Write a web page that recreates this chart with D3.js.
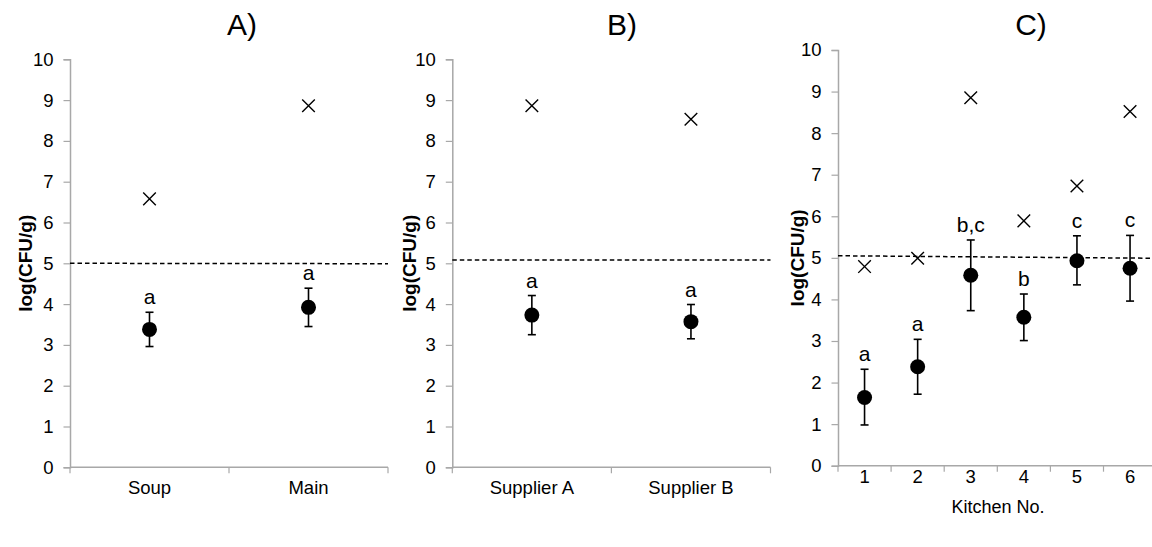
<!DOCTYPE html>
<html><head><meta charset="utf-8">
<script src="https://cdn.jsdelivr.net/npm/d3@7"></script>
<style>
body{margin:0;background:#fff;}
svg{display:block;font-family:"Liberation Sans",Arial,sans-serif;}
</style></head>
<body><svg id="c" width="1152" height="547"></svg>
<script>
// Panel A
const catsA = ["Soup","Main"];
const meanA = [3.38, 3.92];
const upA = [3.80, 4.39];
const lowA = [2.96, 3.45];
const maxA = [6.58, 8.86];
const letA = ["a","a"];
const limA = [5.00, 4.99];
// Panel B
const catsB = ["Supplier A","Supplier B"];
const meanB = [3.73, 3.57];
const upB = [4.21, 3.99];
const lowB = [3.25, 3.15];
const maxB = [8.86, 8.53];
const letB = ["a","a"];
const limB = [5.08, 5.08];
// Panel C
const catsC = ["1","2","3","4","5","6"];
const meanC = [1.64, 2.38, 4.58, 3.57, 4.93, 4.75];
const upC = [2.32, 3.04, 5.43, 4.13, 5.53, 5.54];
const lowC = [0.98, 1.72, 3.73, 3.01, 4.35, 3.96];
const maxC = [4.79, 4.99, 8.85, 5.89, 6.73, 8.52];
const letC = ["a","a","b,c","b","c","c"];
const limC = [5.05, 4.99];
const yTicks = [0,1,2,3,4,5,6,7,8,9,10];

const svg = d3.select("#c");
const axisColor = "#a8a8a8";
const FF = "Liberation Sans, Arial, sans-serif";

function panel(o){
  const g = svg.append("g");
  const x = d3.scaleBand().domain(o.cats).range([o.x0, o.x1]);
  const y = d3.scaleLinear().domain([0,10]).range([o.y1, o.y0]);
  // y axis
  const ya = g.append("g").attr("transform",`translate(${o.x0},0)`)
    .call(d3.axisLeft(y).tickValues(yTicks).tickSize(6.5).tickPadding(10));
  ya.select(".domain").attr("stroke",axisColor).attr("stroke-width",1.5);
  ya.selectAll(".tick line").attr("stroke",axisColor).attr("stroke-width",1.2);
  ya.selectAll("text").attr("font-size",18.5).attr("fill","#000").attr("font-family",FF);
  // x axis
  const xa = g.append("g").attr("transform",`translate(0,${o.y1})`)
    .call(d3.axisBottom(x).tickSize(0).tickPadding(o.xpad));
  xa.select(".domain").attr("stroke",axisColor).attr("stroke-width",1.5).attr("d",`M${o.x0},0H${o.x1}`);
  xa.selectAll("text").attr("font-size",18.5).attr("fill","#000").attr("font-family",FF);
  // boundary ticks
  const bounds = o.cats.map(c => x(c)).concat([o.x1]);
  g.selectAll(".bt").data(bounds).enter().append("line")
    .attr("x1",d=>d).attr("x2",d=>d).attr("y1",o.y1).attr("y2",o.y1+6)
    .attr("stroke",axisColor).attr("stroke-width",1.2);
  // threshold line
  g.append("line").attr("x1",o.x0).attr("x2",o.x1)
    .attr("y1",y(o.lim[0])).attr("y2",y(o.lim[1]))
    .attr("stroke","#000").attr("stroke-width",1.5).attr("stroke-dasharray","4.5,3");
  const cx = c => x(c) + x.bandwidth()/2;
  o.cats.forEach((c,i)=>{
    const X = cx(c);
    g.append("line").attr("x1",X).attr("x2",X).attr("y1",y(o.up[i])).attr("y2",y(o.low[i]))
      .attr("stroke","#000").attr("stroke-width",1.6);
    [o.up[i], o.low[i]].forEach(v=>{
      g.append("line").attr("x1",X-4).attr("x2",X+4).attr("y1",y(v)).attr("y2",y(v))
        .attr("stroke","#000").attr("stroke-width",1.6);
    });
    g.append("circle").attr("cx",X).attr("cy",y(o.mean[i])).attr("r",7.5).attr("fill","#000");
    const MY = y(o.max[i]), s = 6.3;
    g.append("path").attr("d",`M${X-s},${MY-s}L${X+s},${MY+s}M${X-s},${MY+s}L${X+s},${MY-s}`)
      .attr("stroke","#000").attr("stroke-width",1.4).attr("fill","none");
    g.append("text").attr("x",X).attr("y",y(o.up[i])-8).attr("text-anchor","middle")
      .attr("font-size",21).text(o.let[i]);
  });
  g.append("text").attr("x",o.tx).attr("y",35).attr("text-anchor","middle").attr("font-size",30).text(o.title);
  g.append("text").attr("transform",`translate(${o.lx},${(o.y0+o.y1)/2}) rotate(-90)`)
    .attr("text-anchor","middle").attr("dominant-baseline","central")
    .attr("font-size",19).attr("font-weight","bold").text("log(CFU/g)");
  if(o.xlabel){
    g.append("text").attr("x",o.xlx).attr("y",513).attr("text-anchor","middle")
      .attr("font-size",18).text(o.xlabel);
  }
}

panel({cats:catsA,mean:meanA,up:upA,low:lowA,max:maxA,let:letA,lim:limA,
  x0:70,x1:388,y0:59.3,y1:467.3,tx:242,lx:25,title:"A)",xpad:14});
panel({cats:catsB,mean:meanB,up:upB,low:lowB,max:maxB,let:letB,lim:limB,
  x0:452.3,x1:770.5,y0:59.3,y1:467.3,tx:622,lx:409,title:"B)",xpad:14});
panel({cats:catsC,mean:meanC,up:upC,low:lowC,max:maxC,let:letC,lim:limC,
  x0:838,x1:1156.6,y0:50,y1:465.7,tx:1031,lx:797,title:"C)",xlabel:"Kitchen No.",xlx:998,xpad:4.5});
</script></body></html>
